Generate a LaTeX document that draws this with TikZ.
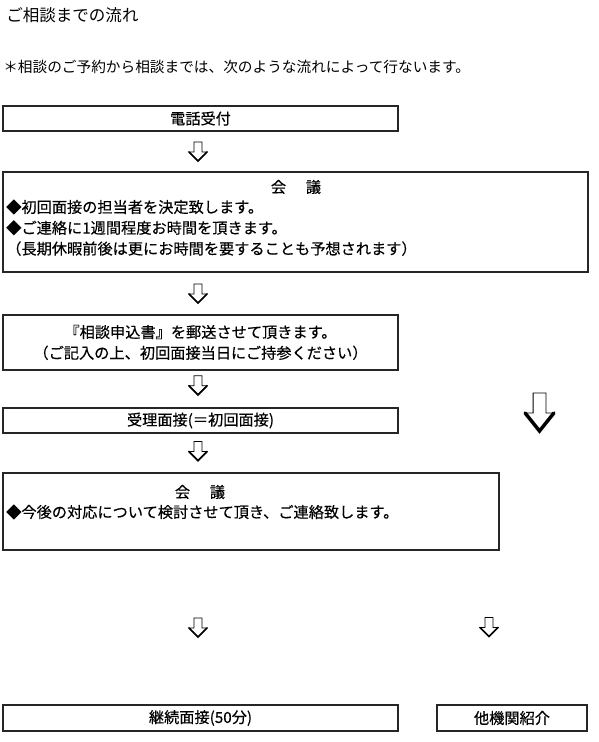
\documentclass[tikz,border=0pt]{standalone}
\usepackage{fontspec}
\setmainfont{Noto Sans CJK JP}
\newfontfamily\boxfont[FakeBold=0.4]{Noto Sans CJK JP}
\usetikzlibrary{positioning, fit, calc}

\tikzset{
  flowbox/.style={draw=black!85, line width=1pt, inner sep=0pt},
  boxtext/.style={inner sep=0pt, align=center, font=\boxfont\fontsize{11.4}{15.6}\selectfont},
  pics/downarr/.style={code={
    \draw[line width=0.6pt, fill=white] (-4,-9.5) -- (4,-9.5) -- (4,0.5) -- (9,0.5)
      -- (0,9.5) -- (-9,0.5) -- (-4,0.5) -- cycle;
    \draw[line width=#1, line cap=round] (9,0.5) -- (0,9.5) -- (-9,0.5);
  }},
  pics/downarr/.default=1.3pt
}

\begin{document}
\begin{tikzpicture}[x=0.75pt, y=-0.75pt]
  \useasboundingbox (0,0) rectangle (599,742);

  % heading
  \node[anchor=west, inner sep=0pt, font=\fontsize{12.4}{14}\selectfont] (title) at (6,15) {ご相談までの流れ};
  \node[anchor=west, inner sep=0pt, font=\fontsize{11}{14}\selectfont] (lead) at (3,67)
    {＊相談のご予約から相談までは、次のような流れによって行ないます。};

  % boxes
  \node[flowbox, fit={(3,106) (398,131)}] (tel) {};
  \node[boxtext] (telText) at (tel) {電話受付};

  \node[flowbox, fit={(3,172) (588,272)}] (kaigiA) {};
  \node[boxtext] (kaigiAhead) at (296,187) {会\hspace{1.3em}議};
  \node[boxtext, align=left, anchor=west] (kaigiAbody) at (6,227.7)
    {◆初回面接の担当者を決定致します。\\
     ◆ご連絡に1週間程度お時間を頂きます。\\
     （長期休暇前後は更にお時間を要することも予想されます）};

  \node[flowbox, fit={(3,315) (398,370)}] (reqform) {};
  \node[boxtext] (reqformText) at (reqform)
    {『相談申込書』を郵送させて頂きます。\\（ご記入の上、初回面接当日にご持参ください）};

  \node[flowbox, fit={(3,408) (398,433)}] (uketsuke) {};
  \node[boxtext] (uketsukeText) at (uketsuke) {受理面接(＝初回面接)};

  \node[flowbox, fit={(3,473) (499,550)}] (kaigiB) {};
  \node[boxtext] (kaigiBhead) at (200,492) {会\hspace{1.3em}議};
  \node[boxtext, align=left, anchor=west] (kaigiBbody) at (6,512)
    {◆今後の対応について検討させて頂き、ご連絡致します。};

  \node[flowbox, fit={(3,705) (398,731)}] (keizoku) {};
  \node[boxtext] (keizokuText) at (keizoku) {継続面接(50分)};

  \node[flowbox, fit={(437,705) (587,731)}] (referral) {};
  \node[boxtext] (referralText) at (referral) {他機関紹介};

  % block arrows
  \pic at ($(tel.south)!.5!(tel.south|-kaigiA.north)+(-2.5,0)$) {downarr};
  \pic at ($(reqform.north|-kaigiA.south)!.5!(reqform.north)+(-2.5,0)$) {downarr};
  \pic at ($(reqform.south)!.4!(uketsuke.north)+(-2.5,0)$) {downarr};
  \pic at ($(uketsuke.south)!.45!(kaigiB.north-|uketsuke.south)+(-2.5,0)$) {downarr};
  \pic at ($(keizoku.north|-kaigiB.south)!.5!(keizoku.north)+(-2.5,0)$) {downarr};
  \pic at (489,627) {downarr};
  \pic[xscale=1.6, yscale=2] at (539.5,412) {downarr=2.6pt};
\end{tikzpicture}
\end{document}
